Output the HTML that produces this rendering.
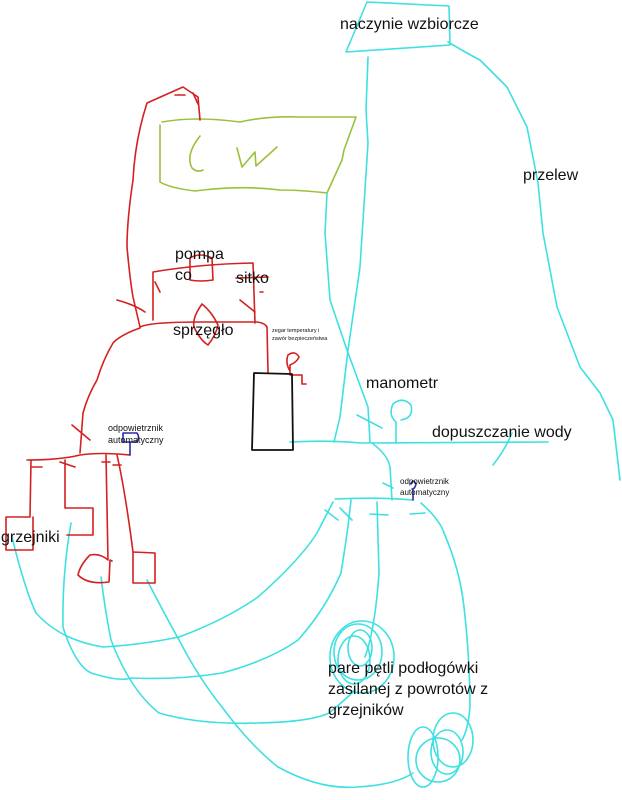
<!DOCTYPE html>
<html><head><meta charset="utf-8"><style>
html,body{margin:0;padding:0;background:#fff;}
svg{display:block;}
text{font-family:"Liberation Sans","DejaVu Sans",sans-serif;fill:#111;}
</style></head><body>
<svg width="622" height="800" viewBox="0 0 622 800" xmlns="http://www.w3.org/2000/svg">
<g fill="none" stroke-linecap="round" stroke-linejoin="round">
<!-- green CW box -->
<g stroke="#9cc03a" stroke-width="1.6">
<path d="M162,122 Q195,116 240,122 Q265,116 300,117 L356,117 L344,150 L342,160 L327,193 Q300,190 280,190 Q240,185 195,191 Q170,188 160,182 L160,125"/>
<path d="M200,136 Q185,155 192,168 Q197,173 203,170"/>
<path d="M237,148 L242,167 L255,152 L256,166 L277,147"/>
</g>
<!-- cyan -->
<g stroke="#3fe0e2" stroke-width="1.6">
<path d="M367,2 L449,6 L450,45 L346,52 L367,2"/>
<path d="M368,57 L366,110 L368,143 L360,267 L348,350 L340,417 L334,442"/>
<path d="M327,193 L325,233 L330,300 L347,350 L368,407 L370,442"/>
<path d="M448,42 Q470,55 480,60 L507,87 L527,127 L538,183 L543,233 L557,307 L580,367 L600,393 L613,420 L620,480"/>
<path d="M290,442 Q330,440 360,443 L548,442"/>
<path d="M493,465 Q505,450 512,433"/>
<path d="M396,442 L396,422 Q388,415 393,404 Q403,396 411,405 Q414,418 401,420"/>
<path d="M357,415 L382,428"/>
<path d="M372,443 Q388,455 390,467 L392,500"/>
<path d="M383,483 L393,488"/>
<path d="M335,499 Q380,497 413,500"/>
<path d="M325,510 L338,520 M340,508 L352,520 M370,514 L388,515 M410,514 L425,513"/>
<!-- loop A -->
<path d="M12,537 Q25,590 36,613 Q60,640 103,647 Q140,645 179,637 Q225,620 258,597 Q300,560 317,533 L333,502"/>
<!-- loop B -->
<path d="M71,523 Q62,575 63,627 Q75,665 91,673 Q120,682 131,678 Q180,680 222,673 Q270,660 298,640 Q325,610 341,573 Q348,530 351,500"/>
<!-- loop C -->
<path d="M101,577 Q105,610 111,640 Q130,690 159,713 Q200,725 258,723 Q310,722 329,713 Q345,700 355,690"/>
<path d="M377,502 L379,573 Q375,630 365,657"/>
<!-- loop D -->
<path d="M147,580 Q165,615 179,640 Q200,680 222,707 Q250,745 278,767 Q320,790 357,787 Q395,785 413,773"/>
<path d="M421,503 Q440,520 444,533 Q460,570 464,607 Q470,660 470,707 Q468,730 462,740"/>
<!-- spirals -->
<ellipse cx="362" cy="657" rx="32" ry="36"/>
<ellipse cx="358" cy="652" rx="24" ry="28"/>
<ellipse cx="354" cy="660" rx="16" ry="24"/>
<ellipse cx="360" cy="648" rx="12" ry="18"/>
<ellipse cx="453" cy="740" rx="20" ry="27"/>
<ellipse cx="447" cy="752" rx="16" ry="22"/>
<ellipse cx="423" cy="757" rx="15" ry="30"/>
<ellipse cx="438" cy="760" rx="22" ry="22"/>
</g>
<!-- red -->
<g stroke="#d42020" stroke-width="1.6">
<path d="M200,120 L198,97 L183,87 L147,103 Q135,140 133,180 Q127,220 127,247 Q130,280 133,297 L140,327"/>
<path d="M175,95 L185,95 M193,93 L198,104"/>
<path d="M117,300 Q135,305 145,312"/>
<path d="M140,327 Q150,322 200,322 L257,322 Q265,323 267,327 L268,372"/>
<path d="M153,320 L153,272 Q200,264 253,263 L255,323"/>
<path d="M155,282 L160,292 M240,300 L255,312 M260,292 L263,292"/>
<path d="M190,270 L190,258 Q200,252 212,258 L213,280 Q200,282 190,280 L190,270"/>
<path d="M202,304 Q192,318 194,327 Q200,340 208,345 Q216,335 218,325 Q212,312 202,304"/>
<path d="M236,278 L268,277"/>
<path d="M140,328 Q120,335 113,343 Q103,360 97,380 Q88,395 83,413 L80,453"/>
<path d="M72,425 L90,440"/>
<path d="M27,460 Q60,460 80,455 Q100,452 130,455"/>
<path d="M31,460 L30,517 L6,517 L6,550 L33,550 L33,517"/>
<path d="M32,467 L42,467 M60,462 L75,467"/>
<path d="M65,460 L65,508 L93,508 L93,535 L67,535"/>
<path d="M106,455 L108,560 Q100,553 90,555 Q80,565 78,575 Q88,585 109,582 L110,560 L112,561"/>
<path d="M102,462 L110,462 M113,465 L121,465"/>
<path d="M117,455 Q125,490 133,552 L155,553 L155,583 L133,583 L133,552"/>
<path d="M290,371 Q285,363 288,355 Q295,350 299,357 Q297,362 290,365 L290,375 L302,375 L302,384 L306,384"/>
</g>
<g stroke="#2a2aa8" stroke-width="1.6">
<path d="M130,455 L130,442 M123,433 L137,433 Q140,437 137,442 L123,442 Z"/>
<path d="M413,500 L413,490 M411,484 Q413,478 416,484 Q415,489 412,489"/>
</g>
<path d="M254,373 L292,374 L293,450 L252,450 L254,373" stroke="#111" stroke-width="1.8"/>
</g>
<g font-size="16">
<text x="340" y="29">naczynie wzbiorcze</text>
<text x="523" y="180">przelew</text>
<text x="175" y="259">pompa</text>
<text x="175" y="280">co</text>
<text x="236" y="283">sitko</text>
<text x="173" y="335">sprzęgło</text>
<text x="366" y="388">manometr</text>
<text x="432" y="437">dopuszczanie wody</text>
<text x="1" y="542">grzejniki</text>
<text x="328" y="673">pare pętli podłogówki</text>
<text x="328" y="694">zasilanej z powrotów z</text>
<text x="328" y="715">grzejników</text>
</g>
<g font-size="9" fill="#333">
<text x="108" y="431">odpowietrznik</text>
<text x="108" y="443">automatyczny</text>
</g>
<g font-size="8">
<text x="400" y="484">odpowietrznik</text>
<text x="400" y="495">automatyczny</text>
</g>
<g font-size="5.5">
<text x="272" y="332">zegar temperatury i</text>
<text x="272" y="340">zawór bezpieczeństwa</text>
</g>
</svg>
</body></html>
